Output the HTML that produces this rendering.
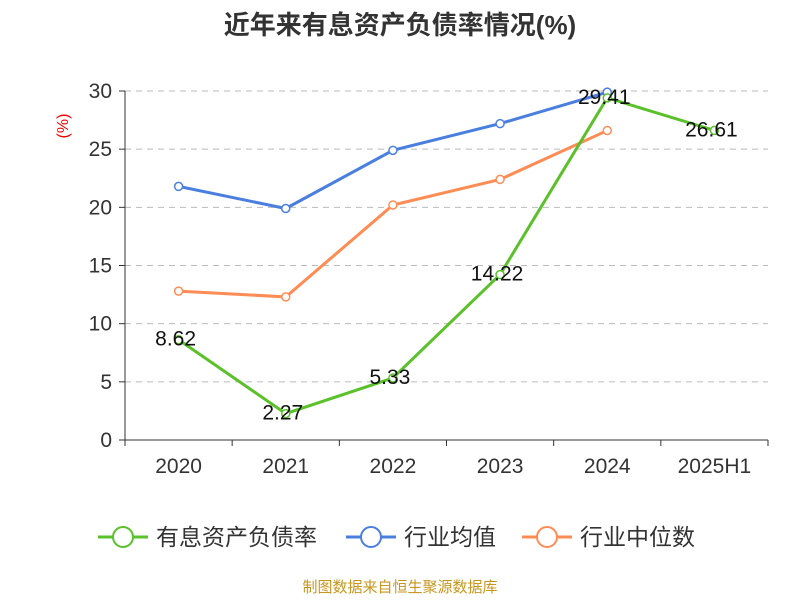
<!DOCTYPE html>
<html><head><meta charset="utf-8"><style>
body{margin:0;background:#fff;font-family:"Liberation Sans","Noto Sans CJK SC",sans-serif}
</style></head><body>
<svg id="c" width="800" height="600" xmlns="http://www.w3.org/2000/svg" font-family="Liberation Sans, Noto Sans CJK SC, sans-serif"></svg>
<script>
const categories=["2020","2021","2022","2023","2024","2025H1"];
const debtRatio=[8.62,2.27,5.33,14.22,29.41,26.61];
const industryAvg=[21.8,19.9,24.9,27.2,29.9,null];
const industryMedian=[12.8,12.3,20.2,22.4,26.6,null];
const yTicks=[0,5,10,15,20,25,30];
const NS="http://www.w3.org/2000/svg";
const svg=document.getElementById('c');
const x0=125,x1=768,yb=440,yt=91,ymax=30;
const bw=(x1-x0)/categories.length;
const X=i=>x0+bw*(i+0.5);
const Y=v=>yb-(v/ymax)*(yb-yt);
function el(t,a,p){const e=document.createElementNS(NS,t);for(const k in a)e.setAttribute(k,a[k]);(p||svg).appendChild(e);return e;}
let t=el('text',{x:400,y:34,'text-anchor':'middle','font-size':26,'font-weight':'bold',fill:'#333'});t.textContent='近年来有息资产负债率情况(%)';

t=el('text',{x:68,y:126,'text-anchor':'middle','font-size':16,fill:'#e00',transform:'rotate(-90 68 126)'});t.textContent='(%)';

yTicks.forEach(v=>{
  if(v>0){const g=el('line',{x1:x0,x2:x1,y1:Y(v),y2:Y(v),stroke:'#bbb','stroke-dasharray':'6,5'});}
  el('line',{x1:x0-6,x2:x0,y1:Y(v),y2:Y(v),stroke:'#333'});
  const l=el('text',{x:x0-13,y:Y(v)+7,'text-anchor':'end','font-size':21,fill:'#333'});l.textContent=v;
  
});
el('line',{x1:x0,x2:x0,y1:yt,y2:yb,stroke:'#333'});
el('line',{x1:x0,x2:x1,y1:yb,y2:yb,stroke:'#333'});
categories.forEach((c,i)=>{
  el('line',{x1:x0+bw*i,x2:x0+bw*i,y1:yb,y2:yb+6,stroke:'#333'});
  const l=el('text',{x:X(i),y:473,'text-anchor':'middle','font-size':21,fill:'#333'});l.textContent=c;
  
});
el('line',{x1:x1,x2:x1,y1:yb,y2:yb+6,stroke:'#333'});
function series(data,color,name,labels){
  const pts=data.map((v,i)=>v==null?null:[X(i),Y(v)]).filter(p=>p);
  const p=el('polyline',{points:pts.map(p=>p.join(',')).join(' '),fill:'none',stroke:color,'stroke-width':3});
  
  data.forEach((v,i)=>{if(v==null)return;
    const c=el('circle',{cx:X(i),cy:Y(v),r:4,fill:'#fff',stroke:color,'stroke-width':1.5});
    
    if(labels){const l=el('text',{x:X(i)-3,y:Y(v)+6,'text-anchor':'middle','font-size':21,fill:'#111'});l.textContent=v.toFixed(2);
      }
  });
}
series(industryAvg,'#4a7fe0','industry-avg',false);
series(industryMedian,'#ff8c55','industry-median',false);
series(debtRatio,'#5ac12a','debt-ratio',true);
const leg=[["有息资产负债率",'#5ac12a',98],["行业均值",'#4a7fe0',346],["行业中位数",'#ff8c55',522]];
leg.forEach(([n,c,x])=>{
  const g=el('g',{});
  el('line',{x1:x,x2:x+50,y1:537,y2:537,stroke:c,'stroke-width':3},g);
  el('circle',{cx:x+25,cy:537,r:10,fill:'#fff',stroke:c,'stroke-width':2},g);
  const l=el('text',{x:x+58,y:545,'font-size':23,fill:'#333'},g);l.textContent=n;
});
t=el('text',{x:400,y:592,'text-anchor':'middle','font-size':15,fill:'#c8961e'});t.textContent='制图数据来自恒生聚源数据库';

</script>
</body></html>
